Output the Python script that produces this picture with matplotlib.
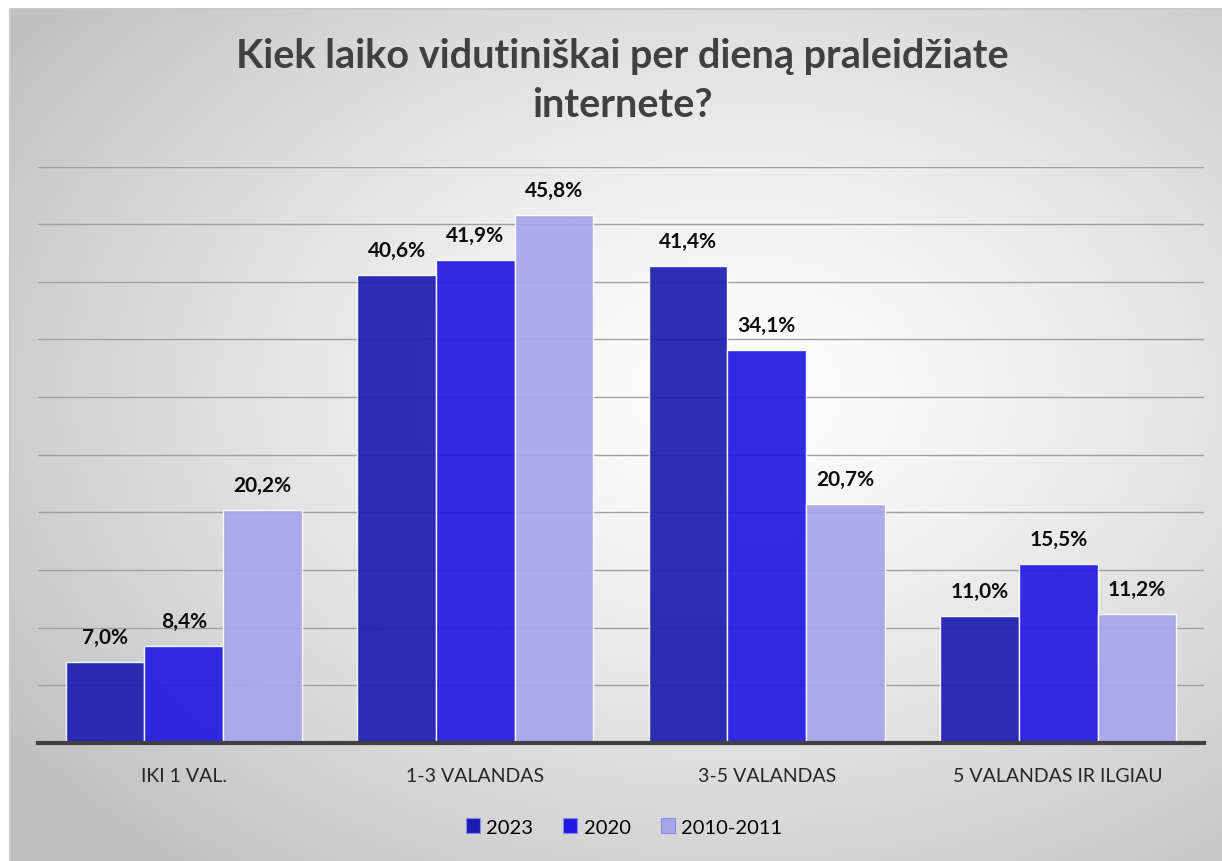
import numpy as np
import matplotlib
matplotlib.use('Agg')
from matplotlib import pyplot as plt
from matplotlib.patches import Patch

plt.rcParams['font.family'] = ['Lato', 'DejaVu Sans']

# Data
categories = ['IKI 1 VAL.', '1-3 VALANDAS', '3-5 VALANDAS', '5 VALANDAS IR ILGIAU']
series_names = ['2023', '2020', '2010-2011']
values_2023 = [7.0, 40.6, 41.4, 11.0]
values_2020 = [8.4, 41.9, 34.1, 15.5]
values_2010 = [20.2, 45.8, 20.7, 11.2]
colors = ['#1c1cb0', '#2218e2', '#a6a6ea']

W, H = 1222, 862
fig = plt.figure(figsize=(W / 100, H / 100), dpi=100)

# background with radial gradient
bg = fig.add_axes([10 / W, 0, (W - 10) / W, (H - 10) / H])
yy, xx = np.mgrid[0:1:300j, 0:1:400j]
r = np.sqrt((xx - 0.6) ** 2 + (yy - 0.45) ** 2)
r = np.clip(r / 0.72, 0, 1)
shade = 1.0 - 0.24 * r ** 1.3
img = np.dstack([shade, shade, shade])
bg.imshow(img, aspect='auto', extent=[0, 1, 0, 1], origin='upper')
bg.set_xlim(0, 1)
bg.set_ylim(0, 1)
bg.axis('off')
bg.plot([0, 0, 1], [0, 1, 1], color='#c8c8c8', lw=1.5, transform=bg.transAxes, clip_on=False)

# main axes
ax = fig.add_axes([38 / W, (H - 744) / H, (1204 - 38) / W, (744 - 167.5) / H])
ax.patch.set_alpha(0)
x = np.arange(len(categories))
width = 0.27
offsets = [-width, 0, width]
all_vals = [values_2023, values_2020, values_2010]

for vals, off, col, name in zip(all_vals, offsets, colors, series_names):
    bars = ax.bar(x + off, vals, width, color=col, alpha=0.92, edgecolor='white',
                  linewidth=1.0, zorder=2, label=name)
    for b, v in zip(bars, vals):
        ax.text(b.get_x() + b.get_width() / 2, v + 1.3, ('%.1f%%' % v).replace('.', ','),
                ha='center', va='bottom', fontsize=15, fontweight='bold', color='#0d0d0d')

ax.set_xlim(-0.5, 3.5)
ax.set_ylim(0, 50)
ax.set_yticks(np.arange(0, 51, 5))
ax.yaxis.grid(True, color='#a0a0a0', linewidth=1.0, zorder=0)
ax.set_axisbelow(True)
ax.tick_params(axis='y', left=False, labelleft=False)
ax.tick_params(axis='x', bottom=False, pad=14)
ax.set_xticks(x)
ax.set_xticklabels(categories, fontsize=14, color='#262626')
for sp in ['top', 'right', 'left']:
    ax.spines[sp].set_visible(False)
ax.spines['bottom'].set_color('#404040')
ax.spines['bottom'].set_linewidth(3)

fig.text(622 / W, 1 - 81 / H, 'Kiek laiko vidutiniškai per dieną praleidžiate\ninternete?',
         ha='center', va='center', fontsize=28.5, fontweight='bold', color='#404040',
         linespacing=1.38)

handles = [Patch(facecolor=c, edgecolor='#8888ee', linewidth=0.8) for c in colors]
fig.legend(handles, series_names, loc='center', bbox_to_anchor=(624 / W, 1 - 828 / H),
           ncol=3, frameon=False, fontsize=14.5, handlelength=0.7, handleheight=0.7,
           handletextpad=0.3, columnspacing=1.5)

fig.savefig('out.png', dpi=100)
